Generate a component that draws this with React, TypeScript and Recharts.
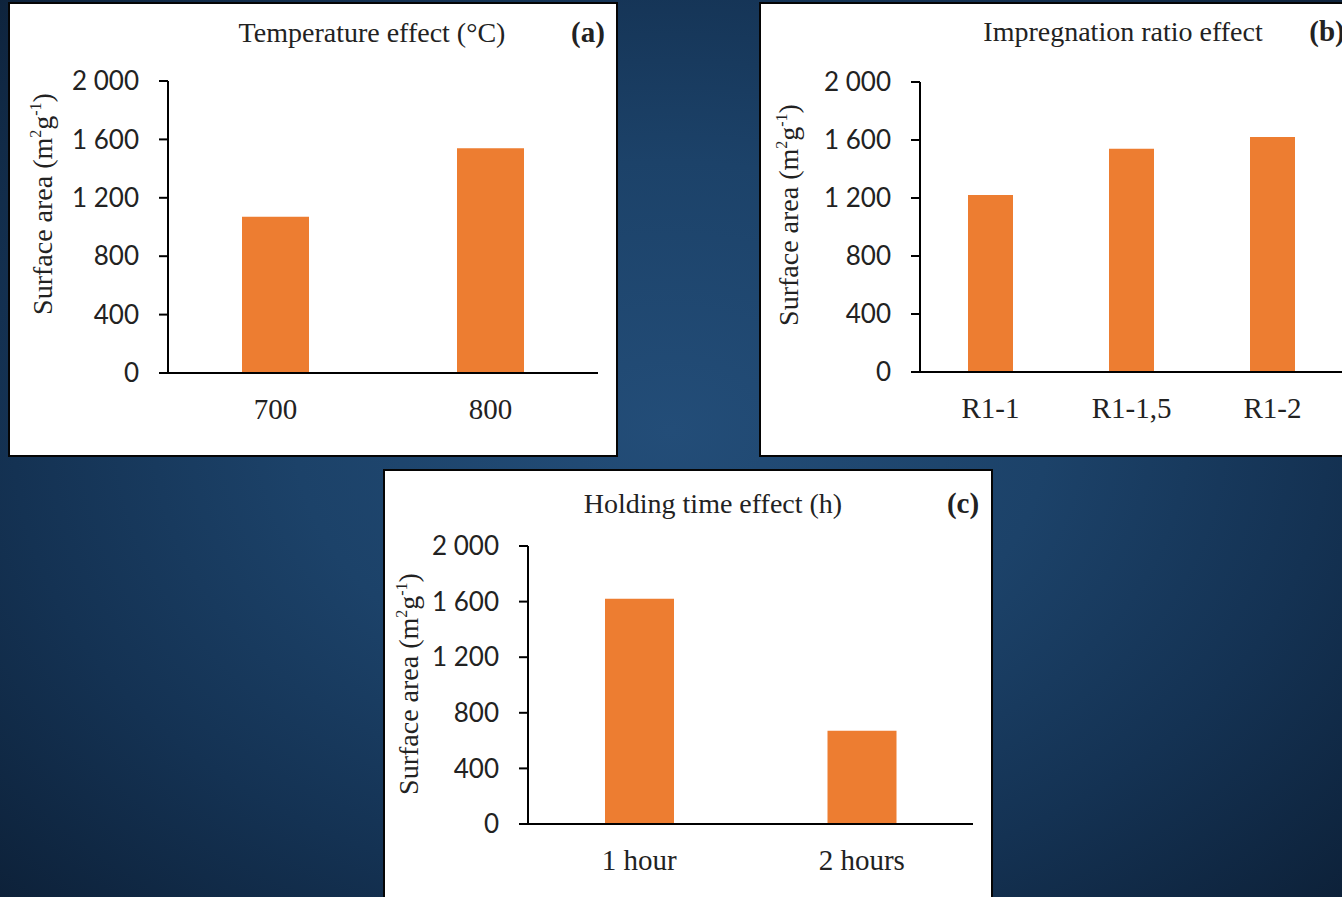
import React from "react"
import { BarChart, Bar, XAxis, YAxis } from "recharts"

// values
const temperatureLabels = ["700", "800"]
const temperatureArea = [1070, 1540]

const ratioLabels = ["R1-1", "R1-1,5", "R1-2"]
const ratioArea = [1220, 1540, 1620]

const holdingLabels = ["1 hour", "2 hours"]
const holdingArea = [1620, 670]

const yTicks = [0, 400, 800, 1200, 1600, 2000]

const ORANGE = "#ED7D31"
const SERIF = "'Liberation Serif', 'Times New Roman', serif"
const SANS = "Lato, 'Open Sans', sans-serif"

const formatThousands = (v: number) =>
  v >= 1000 ? `${Math.floor(v / 1000)} ${String(v % 1000).padStart(3, "0")}` : String(v)

function AxisTitle({ px, py }: { px: number; py: number }) {
  return (
    <text
      x={px}
      y={py}
      transform={`rotate(-90 ${px} ${py})`}
      textAnchor="middle"
      dominantBaseline="central"
      fontFamily={SERIF}
      fontSize={28}
      fill="#222"
    >
      {"Surface area (m"}<tspan baselineShift="40%" fontSize={16}>2</tspan>{"g"}<tspan baselineShift="40%" fontSize={16}>-1</tspan>{")"}
    </text>
  )
}

interface PanelProps {
  left: number
  top: number
  height: number
  title: string
  letter: string
  titleX: number
  titleY: number
  letterX: number
  labels: string[]
  values: number[]
  plotLeft: number
  plotTop: number
  plotBottom: number
  plotRight: number
  barSize: number
  labelX: number
  labelY: number
}

function Panel(p: PanelProps) {
  const innerW = 606
  const innerH = p.height - 4
  const data = p.labels.map((name, i) => ({ name, area: p.values[i] }))
  const xAxisH = 60
  return (
    <div
      style={{
        position: "absolute",
        left: p.left,
        top: p.top,
        width: innerW,
        height: innerH,
        background: "#fff",
        border: "2px solid #050505",
      }}
    >
      <svg width={innerW} height={innerH} style={{ position: "absolute", left: 0, top: 0 }}>
        <text x={p.titleX} y={p.titleY} textAnchor="middle" fontFamily={SERIF} fontSize={28} fill="#222">
          {p.title}
        </text>
        <text x={p.letterX} y={p.titleY} textAnchor="middle" fontFamily={SERIF} fontSize={29} fontWeight="bold" fill="#222">
          {p.letter}
        </text>
      </svg>
      <div style={{ position: "absolute", left: 0, top: 0 }}>
        <BarChart
          width={innerW}
          height={innerH}
          data={data}
          margin={{ top: p.plotTop, right: innerW - p.plotRight, left: 0, bottom: innerH - p.plotBottom - xAxisH }}
          barSize={p.barSize}
        >
          <XAxis
            dataKey="name"
            height={xAxisH}
            axisLine={{ stroke: "#000", strokeWidth: 2 }}
            tickLine={false}
            tickSize={0}
            tickMargin={25}
            tick={{ fontFamily: SERIF, fontSize: 29, fill: "#222" }}
            interval={0}
          />
          <YAxis
            width={p.plotLeft}
            domain={[0, 2000]}
            ticks={yTicks}
            interval={0}
            tickFormatter={formatThousands}
            axisLine={{ stroke: "#000", strokeWidth: 2 }}
            tickLine={{ stroke: "#000", strokeWidth: 2 }}
            tickSize={9}
            tickMargin={20}
            tick={{ fontFamily: SANS, fontSize: 26, fill: "#222" }}
            label={<AxisTitle px={p.labelX} py={p.labelY} />}
          />
          <Bar dataKey="area" fill={ORANGE} isAnimationActive={false} />
        </BarChart>
      </div>
    </div>
  )
}

export default function App() {
  return (
    <div
      style={{
        position: "absolute",
        left: 0,
        top: 0,
        width: 1342,
        height: 897,
        overflow: "hidden",
        background:
          "radial-gradient(ellipse 70% 75% at 50% 48%, #234d78 0%, #1c4269 40%, #143253 70%, #0d2139 100%)",
      }}
    >
      <Panel
        left={8}
        top={2}
        height={455}
        title="Temperature effect (°C)"
        letter="(a)"
        titleX={362}
        titleY={38}
        letterX={578}
        labels={temperatureLabels}
        values={temperatureArea}
        plotLeft={158}
        plotTop={77}
        plotBottom={369}
        plotRight={588}
        barSize={67}
        labelX={32}
        labelY={200}
      />
      <Panel
        left={759}
        top={2}
        height={455}
        title="Impregnation ratio effect"
        letter="(b)"
        titleX={362}
        titleY={37}
        letterX={566}
        labels={ratioLabels}
        values={ratioArea}
        plotLeft={159}
        plotTop={78}
        plotBottom={368}
        plotRight={582}
        barSize={45}
        labelX={27}
        labelY={211}
      />
      <Panel
        left={383}
        top={469}
        height={440}
        title="Holding time effect (h)"
        letter="(c)"
        titleX={328}
        titleY={42}
        letterX={578}
        labels={holdingLabels}
        values={holdingArea}
        plotLeft={143}
        plotTop={75}
        plotBottom={353}
        plotRight={588}
        barSize={69}
        labelX={23}
        labelY={213}
      />
    </div>
  )
}
